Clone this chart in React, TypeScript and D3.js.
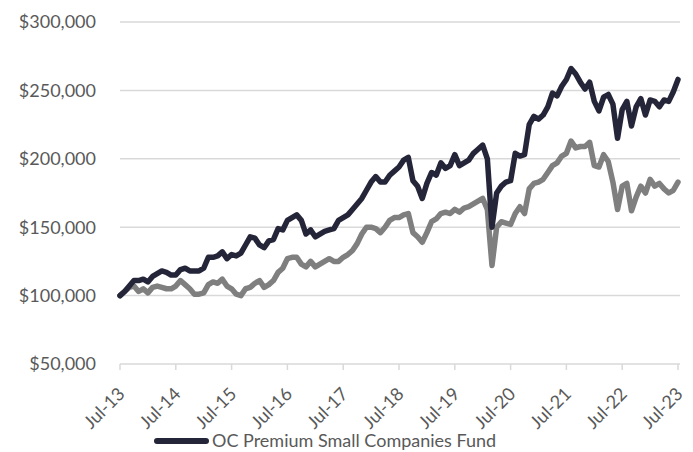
import React from "react";
import * as d3 from "d3";

// Monthly values (thousands of $), Jul-13 .. Jul-23
const fundValues: number[] = [
  100, 103, 107, 111, 111, 112, 110, 114, 116, 118,
  117, 115, 115, 119, 120, 118, 118, 118, 120, 128,
  128, 129, 132, 127, 130, 129, 131, 137, 143, 142,
  137, 135, 140, 141, 149, 148, 155, 157, 159, 155,
  145, 148, 143, 145, 147, 148, 149, 155, 157, 159,
  163, 167, 171, 177, 183, 187, 183, 183, 188, 191,
  194, 199, 201, 184, 180, 171, 182, 190, 188, 197,
  193, 195, 203, 195, 197, 199, 204, 207, 210, 200,
  150, 175, 180, 183, 184, 204, 202, 203, 225, 231,
  229, 232, 238, 248, 246, 253, 258, 266, 262, 256,
  251, 256, 242, 235, 245, 247, 240, 215, 236, 242,
  224, 238, 244, 232, 243, 242, 238, 243, 242, 249,
  258,
];

const indexValues: number[] = [
  100, 103, 106, 107, 103, 105, 102, 106, 107, 106,
  105, 105, 107, 111, 108, 105, 101, 101, 102, 108,
  110, 109, 112, 107, 105, 101, 100, 105, 106, 109,
  111, 106, 108, 111, 117, 120, 127, 128, 128, 123,
  121, 125, 121, 123, 125, 127, 125, 125, 128, 130,
  133, 138, 145, 150, 150, 149, 146, 150, 155, 157,
  157, 159, 160, 146, 143, 139, 146, 154, 156, 160,
  161, 160, 163, 161, 164, 165, 167, 169, 171, 163,
  122, 150, 154, 153, 152, 160, 165, 160, 178, 182,
  183, 185, 190, 195, 197, 202, 204, 213, 208, 209,
  209, 212, 195, 194, 203, 198, 183, 163, 180, 182,
  162, 172, 180, 175, 185, 180, 182, 178, 175, 177,
  183,
];

const xTickLabels: string[] = [
  "Jul-13", "Jul-14", "Jul-15", "Jul-16", "Jul-17", "Jul-18",
  "Jul-19", "Jul-20", "Jul-21", "Jul-22", "Jul-23",
];
const yTicks: number[] = [50000, 100000, 150000, 200000, 250000, 300000];
const legendLabel = "OC Premium Small Companies Fund";

const W = 693;
const H = 452;
const FONT = "Lato, 'Open Sans', sans-serif";

export default function App() {
  const x = d3.scaleLinear().domain([0, 120]).range([120, 678]);
  const y = d3.scaleLinear().domain([50000, 300000]).range([364, 22]);
  const fmt = d3.format("$,.0f");

  const line = d3
    .line<number>()
    .x((_, i) => x(i))
    .y((d) => y(d * 1000));

  const axisY = y(50000);

  return (
    <svg
      width={W}
      height={H}
      style={{ position: "fixed", left: 0, top: 0, background: "#fff" }}
    >
      <rect width={W} height={H} fill="#fff" />
      {yTicks.map((t) => (
        <g key={t}>
          {t !== 50000 && (
            <line x1={120} x2={680} y1={y(t)} y2={y(t)} stroke="#d9d9d9" strokeWidth={1.5} />
          )}
          <text
            x={96}
            y={y(t)}
            dy="0.35em"
            textAnchor="end"
            fontFamily={FONT}
            fontSize={18}
            fill="#595959"
          >
            {fmt(t)}
          </text>
        </g>
      ))}
      <line x1={120} x2={680} y1={axisY} y2={axisY} stroke="#d9d9d9" strokeWidth={1.5} />
      {xTickLabels.map((lab, k) => {
        const tx = x(k * 12);
        return (
          <g key={lab}>
            <line x1={tx} x2={tx} y1={axisY} y2={axisY + 6} stroke="#d9d9d9" strokeWidth={1.5} />
            <text
              transform={`translate(${tx + 6},${axisY + 31}) rotate(-45)`}
              textAnchor="end"
              fontFamily={FONT}
              fontSize={18}
              fill="#595959"
            >
              {lab}
            </text>
          </g>
        );
      })}
      <path
        d={line(indexValues) || ""}
        fill="none"
        stroke="#7f7f7f"
        strokeWidth={5.5}
        strokeLinejoin="round"
        strokeLinecap="round"
      />
      <path
        d={line(fundValues) || ""}
        fill="none"
        stroke="#25253a"
        strokeWidth={5.5}
        strokeLinejoin="round"
        strokeLinecap="round"
      />
      <line
        x1={157}
        x2={206}
        y1={441}
        y2={441}
        stroke="#25253a"
        strokeWidth={6}
        strokeLinecap="round"
      />
      <text x={212} y={447} fontFamily={FONT} fontSize={18} fill="#595959">
        {legendLabel}
      </text>
    </svg>
  );
}
